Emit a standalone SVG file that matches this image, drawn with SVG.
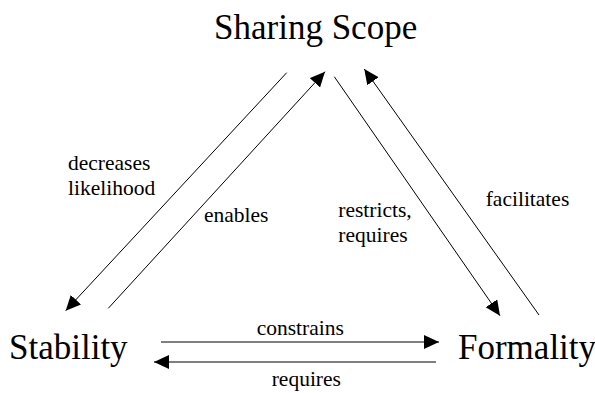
<svg xmlns="http://www.w3.org/2000/svg" width="595" height="393" viewBox="0 0 595 393">
<style>
text{font-family:'Liberation Serif','DejaVu Serif',serif;fill:#000}
.node{font-size:35px}
.lbl{font-size:21.5px}
.edge{stroke:#000;stroke-width:1;fill:none;marker-end:url(#ah)}
</style>
<defs>
<marker id="ah" markerUnits="userSpaceOnUse" markerWidth="16" markerHeight="15" refX="15" refY="7" orient="auto" viewBox="0 0 16 15">
<path d="M0,0 L15,7 L0,14 z" fill="#000"/>
</marker>
</defs>
<rect width="595" height="393" fill="#fff"/>
<g id="connectors">
<line class="edge" x1="286.7" y1="72.7" x2="65.7" y2="310.7"/>
<line class="edge" x1="108.3" y1="308.3" x2="325" y2="71.7"/>
<line class="edge" x1="334.3" y1="76.7" x2="500" y2="315.7"/>
<line class="edge" x1="539" y1="315" x2="364.3" y2="69"/>
<line class="edge" x1="161" y1="342" x2="439" y2="342"/>
<line class="edge" x1="436" y1="362" x2="154" y2="362"/>
<text class="lbl" font-family="Liberation Serif, DejaVu Serif, serif" x="68" y="170">decreases</text>
<text class="lbl" font-family="Liberation Serif, DejaVu Serif, serif" x="68" y="195">likelihood</text>
<text class="lbl" font-family="Liberation Serif, DejaVu Serif, serif" x="204" y="221.7">enables</text>
<text class="lbl" font-family="Liberation Serif, DejaVu Serif, serif" x="338.3" y="216.7">restricts,</text>
<text class="lbl" font-family="Liberation Serif, DejaVu Serif, serif" x="338.3" y="241.7">requires</text>
<text class="lbl" font-family="Liberation Serif, DejaVu Serif, serif" x="485.7" y="206">facilitates</text>
<text class="lbl" font-family="Liberation Serif, DejaVu Serif, serif" x="256.7" y="335">constrains</text>
<text class="lbl" font-family="Liberation Serif, DejaVu Serif, serif" x="271.7" y="386">requires</text>
</g>
<g id="sharing-scope"><text class="node" font-family="Liberation Serif, DejaVu Serif, serif" x="214" y="39">Sharing Scope</text></g>
<g id="stability"><text class="node" font-family="Liberation Serif, DejaVu Serif, serif" x="9" y="359">Stability</text></g>
<g id="formality"><text class="node" font-family="Liberation Serif, DejaVu Serif, serif" x="458" y="359">Formality</text></g>
</svg>
